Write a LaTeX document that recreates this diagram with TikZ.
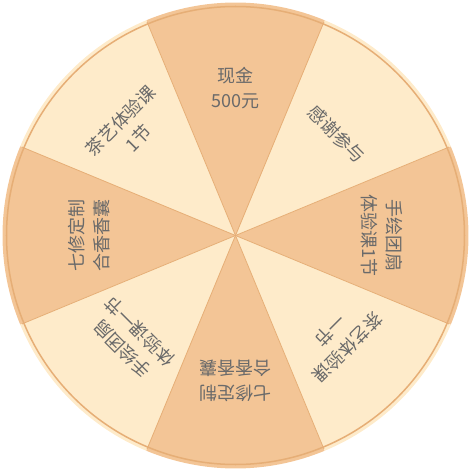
\documentclass[tikz,border=0pt]{standalone}
\usepackage{fontspec}
\setmainfont{Noto Sans CJK SC}
\definecolor{prizecol}{HTML}{F3C596}
\definecolor{blankcol}{HTML}{FEEBCA}
\definecolor{rimcol}{HTML}{E6AE76}
\definecolor{textcol}{HTML}{6A6A6A}
\tikzset{
  prize/.style={fill=prizecol},
  blank/.style={fill=blankcol},
  lbl/.style={font=\fontsize{18}{25}\selectfont, text=textcol, align=center, inner sep=0pt},
}

\begin{document}
\begin{tikzpicture}[x=1pt, y=1pt]
  \useasboundingbox (-235.5,-235.5) rectangle (235.5,235.5);
  % segments
  \foreach \a in {0,90,180,270} {
    \fill[prize] (0,0) -- (\a-22.5:233) arc[start angle=\a-22.5, end angle=\a+22.5, radius=233] -- cycle;
    \fill[blank] (0,0) -- (\a+22.5:233) arc[start angle=\a+22.5, end angle=\a+67.5, radius=233] -- cycle;
  }
  % dividers and rim
  \foreach \a in {22.5,67.5,...,337.5}
    \draw[rimcol, line width=0.8] (0,0) -- (\a:231);
  \draw[rimcol, line width=1.5] (0,0) circle[radius=229];
  % prizes
  \node[lbl, rotate=0]    (cash)    at (90:147)   {现金\\500元};
  \node[lbl, rotate=-45]  (thanks)  at (45:143)   {感谢参与};
  \node[lbl, rotate=-90]  (fanA)    at (0:146)    {手绘团扇\\体验课1节};
  \node[lbl, rotate=-135] (teaA)    at (-45:146)  {茶艺体验课\\一节};
  \node[lbl, rotate=180]  (sachetA) at (-90:145)  {七修定制\\合香香囊};
  \node[lbl, rotate=135]  (fanB)    at (-135:148) {手绘团扇\\体验课一节};
  \node[lbl, rotate=90]   (sachetB) at (180:146)  {七修定制\\合香香囊};
  \node[lbl, rotate=45]   (teaB)    at (135:150)  {茶艺体验课\\1节};
\end{tikzpicture}
\end{document}
